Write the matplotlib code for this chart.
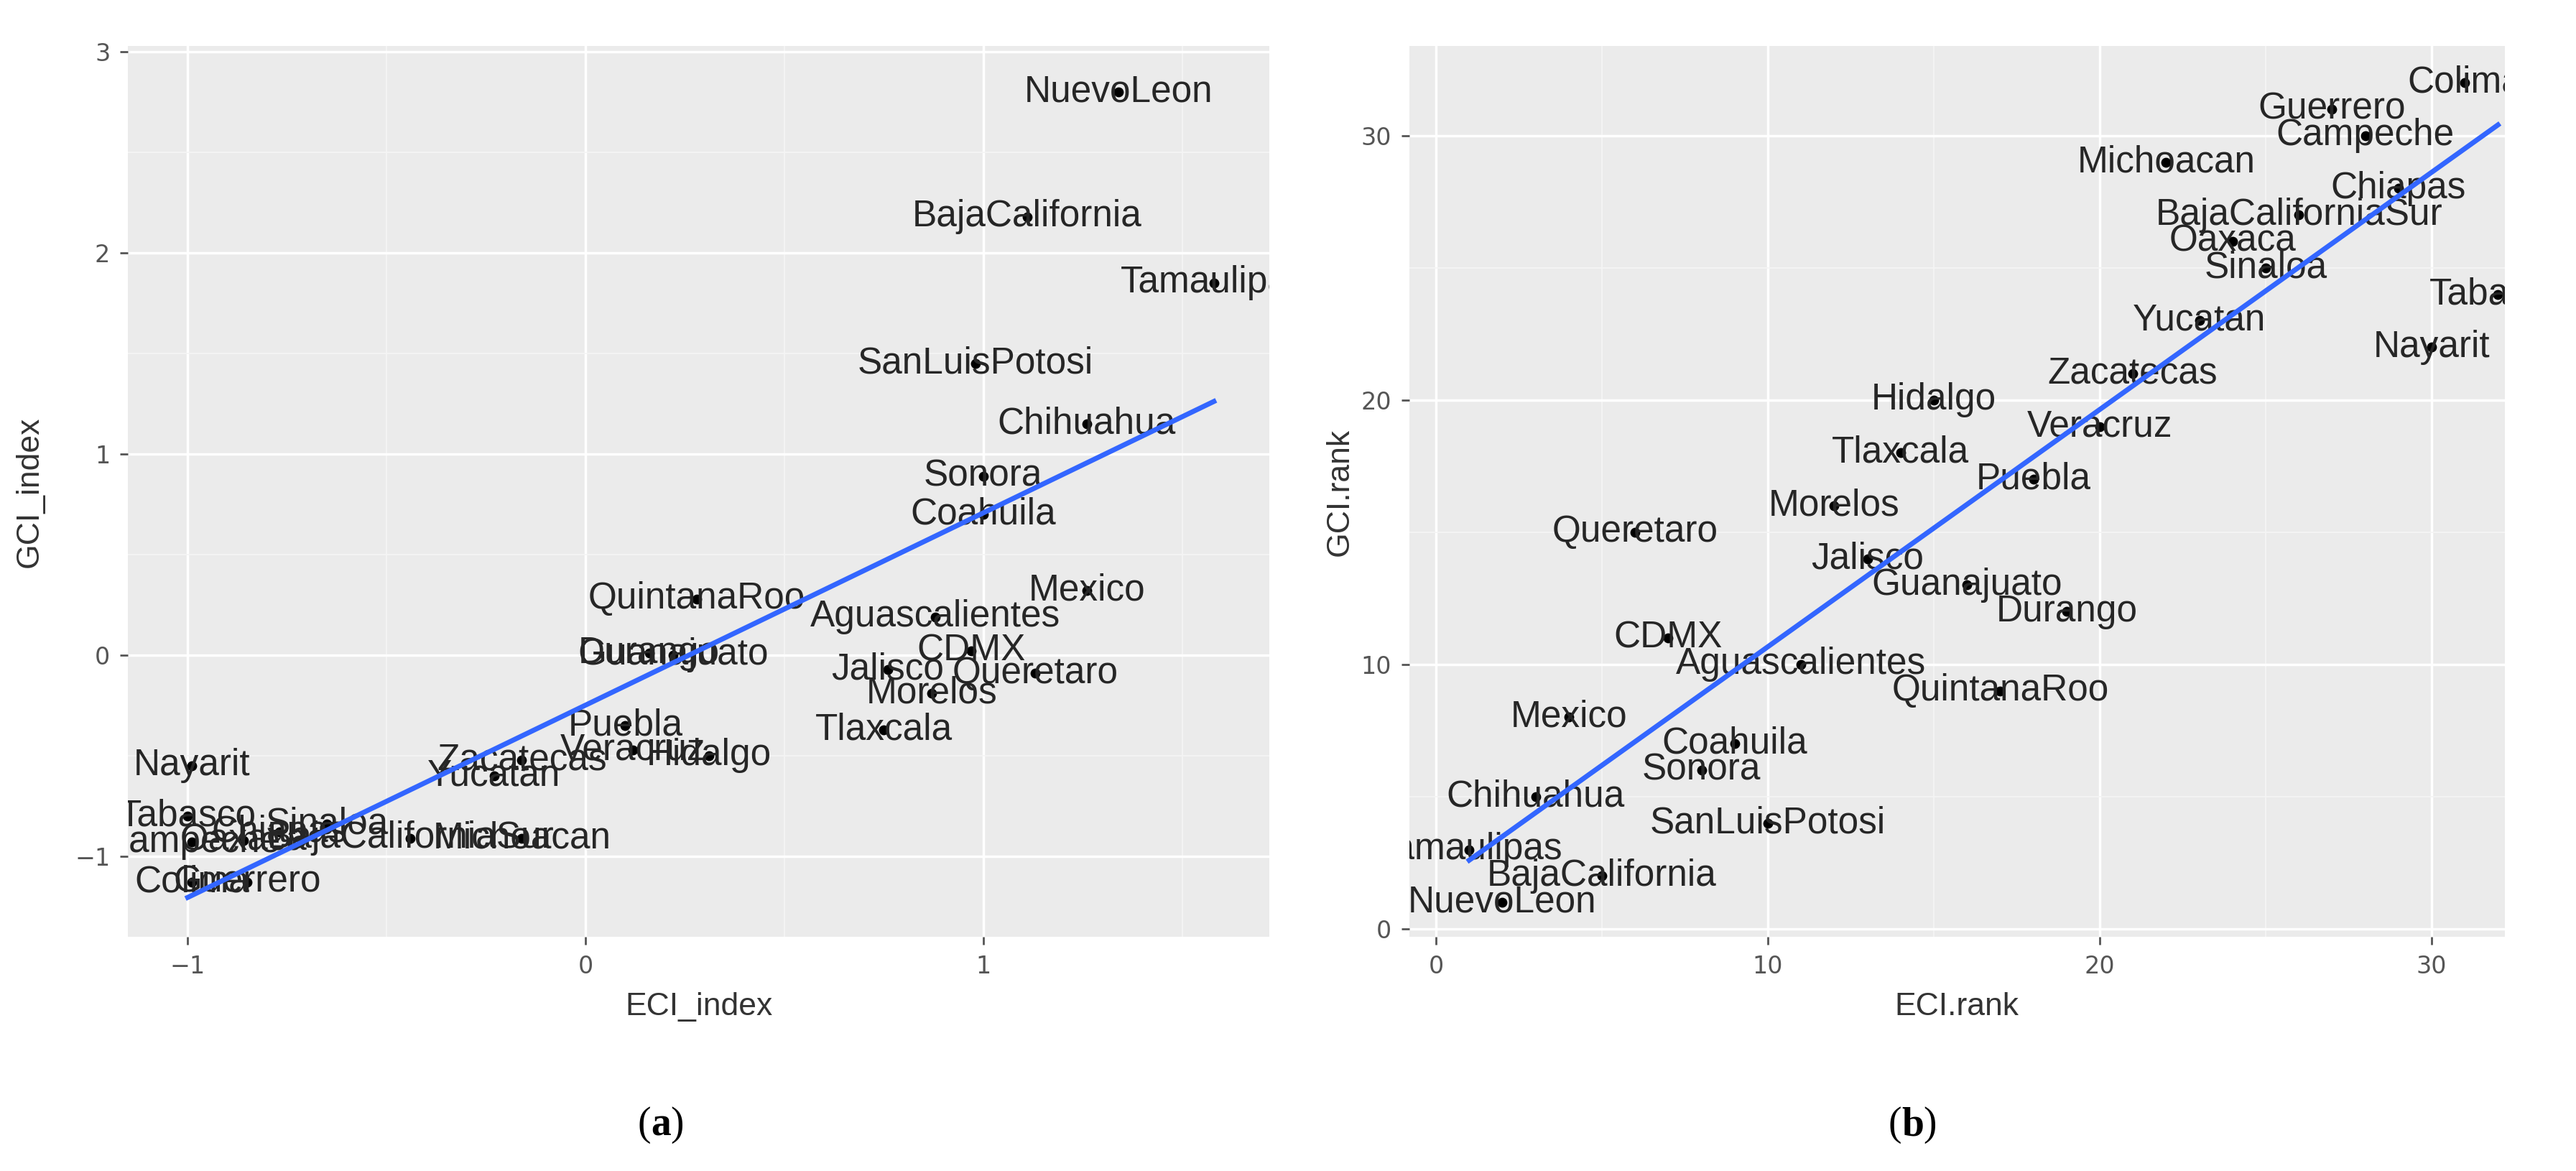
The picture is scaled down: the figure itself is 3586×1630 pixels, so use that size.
import numpy as np
import matplotlib.pyplot as plt
from matplotlib.ticker import MultipleLocator

# Panel (a): ECI_index vs GCI_index
states_a = ["NuevoLeon", "BajaCalifornia", "Tamaulipas", "SanLuisPotosi", "Chihuahua",
            "Sonora", "Coahuila", "QuintanaRoo", "Mexico", "Aguascalientes", "CDMX",
            "Queretaro", "Jalisco", "Morelos", "Tlaxcala", "Durango", "Guanajuato",
            "Puebla", "Veracruz", "Hidalgo", "Zacatecas", "Yucatan", "Michoacan",
            "Nayarit", "Tabasco", "Sinaloa", "Campeche", "Chiapas", "Oaxaca",
            "BajaCaliforniaSur", "Colima", "Guerrero"]
eci_index = [1.34, 1.11, 1.58, 0.98, 1.26, 1.00, 1.00, 0.28, 1.26, 0.88, 0.97,
             1.13, 0.76, 0.87, 0.75, 0.16, 0.22, 0.10, 0.12, 0.31, -0.16, -0.23,
             -0.16, -0.99, -1.00, -0.65, -0.99, -0.77, -0.86, -0.44, -0.99, -0.85]
gci_index = [2.80, 2.18, 1.85, 1.45, 1.15, 0.89, 0.70, 0.28, 0.32, 0.19, 0.02,
             -0.09, -0.07, -0.19, -0.37, 0.01, 0.00, -0.35, -0.47, -0.50, -0.52, -0.60,
             -0.91, -0.55, -0.80, -0.84, -0.93, -0.88, -0.92, -0.91, -1.13, -1.13]

# Panel (b): ECI.rank vs GCI.rank
states_b = ["Colima", "Guerrero", "Campeche", "Michoacan", "Chiapas", "BajaCaliforniaSur",
            "Oaxaca", "Sinaloa", "Tabasco", "Yucatan", "Nayarit", "Zacatecas", "Hidalgo",
            "Veracruz", "Tlaxcala", "Puebla", "Morelos", "Queretaro", "Jalisco",
            "Guanajuato", "Durango", "CDMX", "Aguascalientes", "QuintanaRoo", "Mexico",
            "Coahuila", "Sonora", "Chihuahua", "SanLuisPotosi", "Tamaulipas",
            "BajaCalifornia", "NuevoLeon"]
eci_rank = [31, 27, 28, 22, 29, 26, 24, 25, 32, 23, 30, 21, 15, 20, 14, 18, 12, 6, 13,
            16, 19, 7, 11, 17, 4, 9, 8, 3, 10, 1, 5, 2]
gci_rank = [32, 31, 30, 29, 28, 27, 26, 25, 24, 23, 22, 21, 20, 19, 18, 17, 16, 15, 14,
            13, 12, 11, 10, 9, 8, 7, 6, 5, 4, 3, 2, 1]

W, H = 3587, 1630
fig = plt.figure(figsize=(W / 100, H / 100), dpi=100)
ax1 = fig.add_axes([0.0497, 0.20, 0.443, 0.761])
ax2 = fig.add_axes([0.547, 0.20, 0.425, 0.761])


def panel(ax, names, x, y, xlim, ylim, major, xlabel, ylabel, ylab_x):
    ax.set_facecolor("#EBEBEB")
    for s in ax.spines.values():
        s.set_visible(False)
    ax.xaxis.set_major_locator(MultipleLocator(major[0]))
    ax.yaxis.set_major_locator(MultipleLocator(major[1]))
    ax.xaxis.set_minor_locator(MultipleLocator(major[0] / 2))
    ax.yaxis.set_minor_locator(MultipleLocator(major[1] / 2))
    ax.grid(which="major", color="white", lw=2.5)
    ax.grid(which="minor", color="#F5F5F5", lw=1.2)
    ax.set_axisbelow(True)
    ax.tick_params(which="major", length=8, width=2, color="#555555",
                   labelsize=24, labelcolor="#555555", pad=10)
    ax.tick_params(which="minor", length=0)
    x = np.array(x, float)
    y = np.array(y, float)
    ax.scatter(x, y, s=80, color="black", zorder=3)
    for n, xi, yi in zip(names, x, y):
        ax.text(xi, yi, n, ha="center", va="center", fontsize=37, color="#262626",
                family="Liberation Sans", zorder=4, clip_on=True)
    k, b = np.polyfit(x, y, 1)
    xs = np.array([x.min(), x.max()])
    ax.plot(xs, k * xs + b, color="#3366FF", lw=5, zorder=5)
    ax.set_xlim(*xlim)
    ax.set_ylim(*ylim)
    ax.set_xlabel(xlabel, fontsize=32, color="#333333", family="Liberation Sans", labelpad=14)
    fig.text(ylab_x, 0.58, ylabel, rotation=90, fontsize=32, color="#333333",
             family="Liberation Sans", ha="center", va="center")


panel(ax1, states_a, eci_index, gci_index, (-1.15, 1.72), (-1.4, 3.03), (1, 1),
      "ECI_index", "GCI_index", 0.0115)
panel(ax2, states_b, eci_rank, gci_rank, (-0.8, 32.2), (-0.3, 33.4), (10, 10),
      "ECI.rank", "GCI.rank", 0.52)

fig.text(0.2526, 0.039, "(", fontsize=40, family="Liberation Serif", ha="right", va="center")
fig.text(0.2526, 0.039, "a", fontsize=40, family="Liberation Serif", weight="bold", ha="left", va="center")
fig.text(0.2526 + 0.0075, 0.039, ")", fontsize=40, family="Liberation Serif", ha="left", va="center")
fig.text(0.738, 0.039, "(", fontsize=40, family="Liberation Serif", ha="right", va="center")
fig.text(0.738, 0.039, "b", fontsize=40, family="Liberation Serif", weight="bold", ha="left", va="center")
fig.text(0.738 + 0.0085, 0.039, ")", fontsize=40, family="Liberation Serif", ha="left", va="center")

fig.savefig("out.png", dpi=100, facecolor="white")
